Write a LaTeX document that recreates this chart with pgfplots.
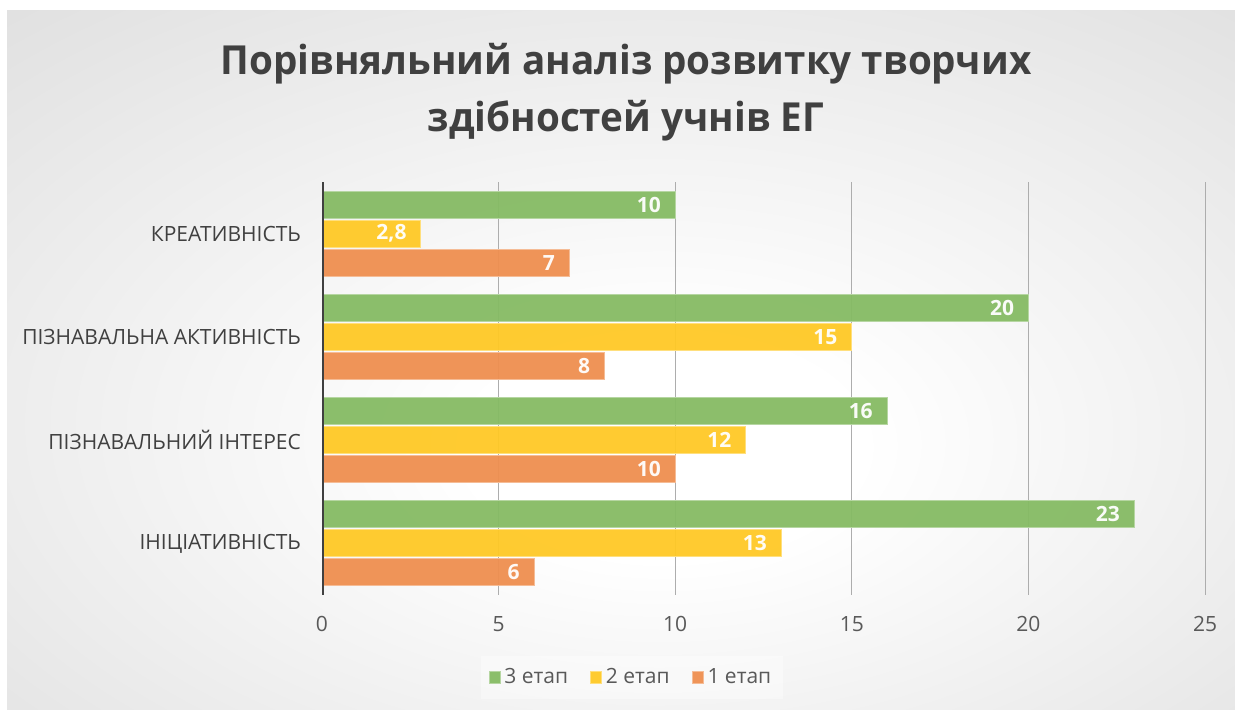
\documentclass[border=0pt]{standalone}
\usepackage{pgfplots}
\pgfplotsset{compat=1.18}
\usepackage{fontspec}
\setmainfont{Open Sans}
\newfontfamily\titlefont{Open Sans}[FakeStretch=0.965]
\definecolor{cgreen}{HTML}{86BB64}
\definecolor{cyellow}{HTML}{FFC926}
\definecolor{corange}{HTML}{EF8F50}
\definecolor{ctext}{HTML}{404040}
\definecolor{ctick}{HTML}{595959}
\pgfdeclareradialshading{bgshade}{\pgfpoint{2bp}{-7bp}}{color(0bp)=(white); color(8bp)=(white); color(72bp)=(black!25)}
\begin{document}
\begin{tikzpicture}
\fill[white] (0,0) rectangle (617.5pt,355pt);
\shade[shading=bgshade] (3.5pt,0pt) rectangle (617.5pt,349.5pt);
\node[font=\titlefont\fontsize{20}{28.5}\selectfont\bfseries, text=ctext, align=center] at (313pt,309pt) {Порівняльний аналіз розвитку творчих\\здібностей учнів ЕГ};
\begin{axis}[
  at={(161pt,57.5pt)}, anchor=south west,
  width=441.5pt, height=206.5pt, scale only axis,
  xbar,
  xmin=0, xmax=25, ymin=-0.5, ymax=3.5,
  xtick={0,5,10,15,20,25},
  ytick={0,1,2,3},
  yticklabels={ІНІЦІАТИВНІСТЬ, ПІЗНАВАЛЬНИЙ ІНТЕРЕС, ПІЗНАВАЛЬНА АКТИВНІСТЬ, КРЕАТИВНІСТЬ},
  axis line style={draw=none},
  major tick length=0pt,
  xmajorgrids,
  grid style={draw=black!32, line width=0.5pt},
  /pgf/number format/assume math mode=true,
  tick label style={font=\fontsize{10.5}{12}\selectfont},
  yticklabel style={text=ctext, xshift=-7pt},
  xticklabel style={text=ctick, yshift=-7pt},
  /pgf/number format/use comma,
  bar width=13.5pt,
  nodes near coords,
  every node near coord/.append style={anchor=east, xshift=-7pt, inner sep=0pt, text=white, font=\fontsize{10.5}{12}\selectfont\bfseries},
  legend style={at={(0.351,-0.2)}, anchor=center, draw=none, fill=white, fill opacity=0.4, text opacity=1,
    font=\fontsize{10.5}{12}\selectfont, text=ctick, inner sep=4pt,
    /tikz/every even column/.append style={column sep=9pt}},
  legend columns=3,
  legend image code/.code={\fill[#1] (0pt,-3pt) rectangle (5.5pt,3pt);},
]
\addplot[fill=cgreen, draw=cgreen!60!white, line width=0.4pt, fill opacity=0.95, bar shift=14.5pt]
  coordinates {(23,0) (16,1) (20,2) (10,3)};
\addplot[fill=cyellow, draw=cyellow!60!white, line width=0.4pt, fill opacity=0.95, bar shift=0pt]
  coordinates {(13,0) (12,1) (15,2) (2.8,3)};
\addplot[fill=corange, draw=corange!60!white, line width=0.4pt, fill opacity=0.95, bar shift=-14.5pt]
  coordinates {(6,0) (10,1) (8,2) (7,3)};
\legend{3 етап, 2 етап, 1 етап}
\draw[ctext, line width=1.5pt] (axis cs:0,-0.5) -- (axis cs:0,3.5);
\end{axis}
\end{tikzpicture}
\end{document}
